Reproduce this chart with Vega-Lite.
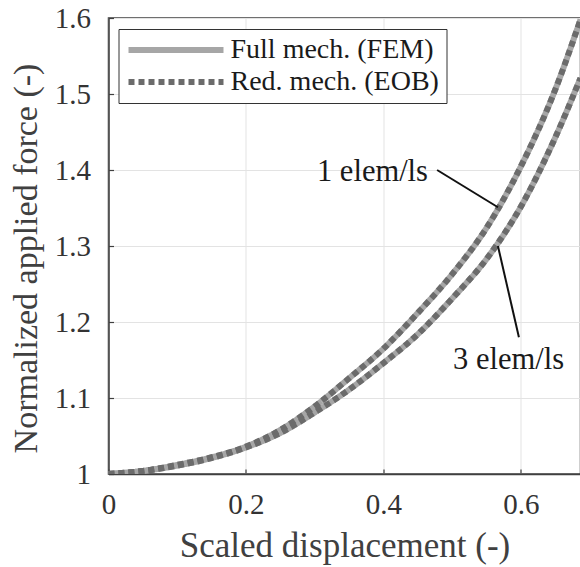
{
  "$schema": "https://vega.github.io/schema/vega-lite/v6.json",
  "width": 472,
  "height": 456,
  "autosize": {"type": "none"},
  "padding": {"left": 108.5, "top": 18, "right": 0, "bottom": 93},
  "background": "white",
  "config": {
    "font": "Liberation Serif",
    "view": {"stroke": "#404040", "strokeWidth": 1.5},
    "axis": {
      "labelFont": "Liberation Serif",
      "titleFont": "Liberation Serif",
      "labelFontSize": 29,
      "titleFontSize": 35,
      "labelColor": "#333333",
      "titleColor": "#404040",
      "titleFontWeight": "normal",
      "labelFlush": false,
      "domainColor": "#404040",
      "domainWidth": 1.5,
      "tickColor": "#404040",
      "tickWidth": 1.2,
      "tickSize": -5,
      "gridColor": "#e3e3e3",
      "gridWidth": 1
    },
    "legend": {
      "orient": "none",
      "legendX": 10,
      "legendY": 11,
      "symbolType": "stroke",
      "symbolSize": 9025,
      "symbolStrokeWidth": 6,
      "clipHeight": 28,
      "rowPadding": 4,
      "labelFont": "Liberation Serif",
      "labelFontSize": 28,
      "labelLimit": 400,
      "labelColor": "#1a1a1a",
      "labelOffset": 4,
      "strokeColor": "#333333",
      "fillColor": "white",
      "padding": 7,
      "title": null
    }
  },
  "datasets": {
    "curves": [
      {"x": 0.00, "y": 1.000, "c": "1 elem/ls"},
      {"x": 0.05, "y": 1.004, "c": "1 elem/ls"},
      {"x": 0.10, "y": 1.012, "c": "1 elem/ls"},
      {"x": 0.15, "y": 1.022, "c": "1 elem/ls"},
      {"x": 0.20, "y": 1.036, "c": "1 elem/ls"},
      {"x": 0.25, "y": 1.058, "c": "1 elem/ls"},
      {"x": 0.30, "y": 1.089, "c": "1 elem/ls"},
      {"x": 0.35, "y": 1.126, "c": "1 elem/ls"},
      {"x": 0.40, "y": 1.165, "c": "1 elem/ls"},
      {"x": 0.45, "y": 1.212, "c": "1 elem/ls"},
      {"x": 0.50, "y": 1.263, "c": "1 elem/ls"},
      {"x": 0.55, "y": 1.324, "c": "1 elem/ls"},
      {"x": 0.60, "y": 1.405, "c": "1 elem/ls"},
      {"x": 0.65, "y": 1.506, "c": "1 elem/ls"},
      {"x": 0.6866, "y": 1.598, "c": "1 elem/ls"},
      {"x": 0.00, "y": 1.000, "c": "3 elem/ls"},
      {"x": 0.05, "y": 1.004, "c": "3 elem/ls"},
      {"x": 0.10, "y": 1.011, "c": "3 elem/ls"},
      {"x": 0.15, "y": 1.021, "c": "3 elem/ls"},
      {"x": 0.20, "y": 1.035, "c": "3 elem/ls"},
      {"x": 0.25, "y": 1.054, "c": "3 elem/ls"},
      {"x": 0.30, "y": 1.081, "c": "3 elem/ls"},
      {"x": 0.35, "y": 1.111, "c": "3 elem/ls"},
      {"x": 0.40, "y": 1.146, "c": "3 elem/ls"},
      {"x": 0.45, "y": 1.184, "c": "3 elem/ls"},
      {"x": 0.50, "y": 1.231, "c": "3 elem/ls"},
      {"x": 0.55, "y": 1.283, "c": "3 elem/ls"},
      {"x": 0.60, "y": 1.352, "c": "3 elem/ls"},
      {"x": 0.65, "y": 1.443, "c": "3 elem/ls"},
      {"x": 0.6866, "y": 1.521, "c": "3 elem/ls"}
    ],
    "labels": [
      {"x": 0.384, "y": 1.398, "t": "1 elem/ls"},
      {"x": 0.582, "y": 1.150, "t": "3 elem/ls"}
    ],
    "leaders": [
      {"x": 0.478, "y": 1.400, "x2": 0.5665, "y2": 1.351},
      {"x": 0.597, "y": 1.180, "x2": 0.5665, "y2": 1.300}
    ]
  },
  "layer": [
    {
      "data": {"name": "curves"},
      "mark": {"type": "line", "strokeWidth": 6, "interpolate": "monotone", "clip": true},
      "encoding": {
        "x": {
          "field": "x", "type": "quantitative",
          "scale": {"domain": [0, 0.6866], "nice": false, "zero": false},
          "axis": {"values": [0, 0.2, 0.4, 0.6], "format": "~g", "title": "Scaled displacement (-)", "labelPadding": 21, "titlePadding": 9}
        },
        "y": {
          "field": "y", "type": "quantitative",
          "scale": {"domain": [1, 1.6], "nice": false, "zero": false},
          "axis": {"values": [1, 1.1, 1.2, 1.3, 1.4, 1.5, 1.6], "format": "~g", "title": "Normalized applied force (-)", "labelPadding": 23, "titlePadding": 11, "titleY": 240, "titleFontSize": 34}
        },
        "detail": {"field": "c"},
        "color": {"datum": "Full mech. (FEM)", "scale": {"domain": ["Full mech. (FEM)", "Red. mech. (EOB)"], "range": ["#a6a6a6", "#6b6b6b"]}},
        "strokeDash": {"datum": "Full mech. (FEM)", "scale": {"domain": ["Full mech. (FEM)", "Red. mech. (EOB)"], "range": [[1, 0], [6, 4]]}}
      }
    },
    {
      "data": {"name": "curves"},
      "mark": {"type": "line", "strokeWidth": 6, "interpolate": "monotone", "clip": true},
      "encoding": {
        "x": {"field": "x", "type": "quantitative"},
        "y": {"field": "y", "type": "quantitative"},
        "detail": {"field": "c"},
        "color": {"datum": "Red. mech. (EOB)"},
        "strokeDash": {"datum": "Red. mech. (EOB)"}
      }
    },
    {
      "data": {"name": "leaders"},
      "mark": {"type": "rule", "color": "#111111", "strokeWidth": 2},
      "encoding": {
        "x": {"field": "x", "type": "quantitative"},
        "y": {"field": "y", "type": "quantitative"},
        "x2": {"field": "x2"},
        "y2": {"field": "y2"}
      }
    },
    {
      "data": {"name": "labels"},
      "mark": {"type": "text", "font": "Liberation Serif", "fontSize": 30.5, "color": "#1a1a1a", "align": "center", "baseline": "middle"},
      "encoding": {
        "x": {"field": "x", "type": "quantitative"},
        "y": {"field": "y", "type": "quantitative"},
        "text": {"field": "t"}
      }
    }
  ]
}
